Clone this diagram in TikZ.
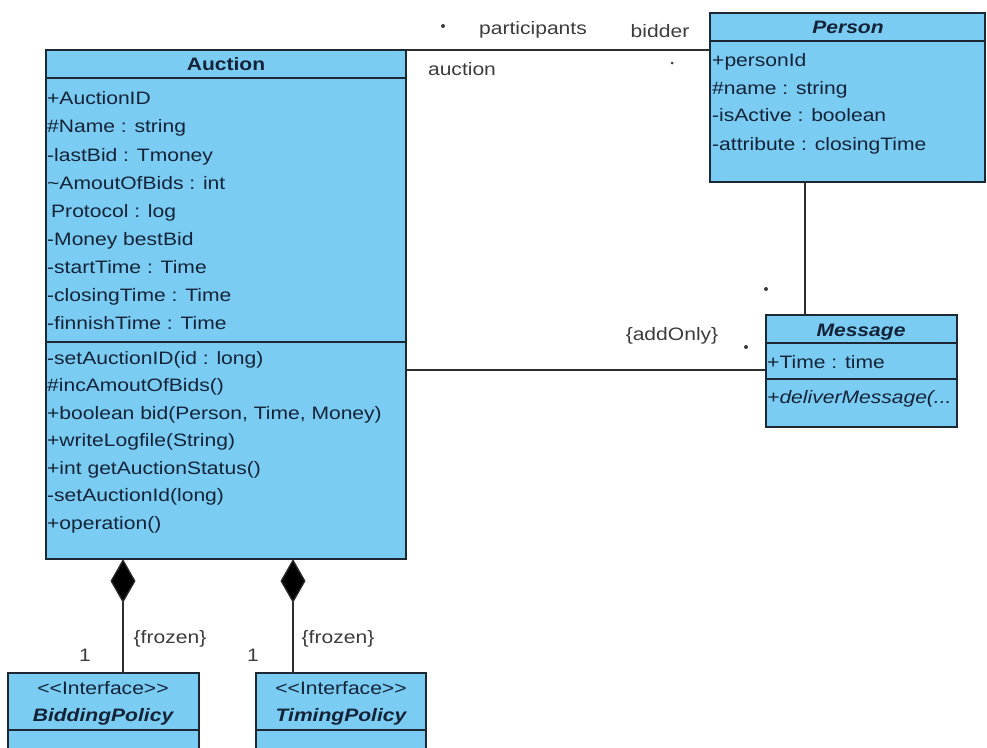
\documentclass[tikz,border=0pt]{standalone}
\usepackage{fontspec}
\setmainfont{Liberation Sans}[FakeStretch=1.17]
\usetikzlibrary{arrows.meta,calc}
\definecolor{umlfill}{RGB}{122,204,242}
\definecolor{umlline}{RGB}{28,40,52}
\definecolor{umltext}{RGB}{20,35,55}
\definecolor{lbltext}{RGB}{60,60,60}
\definecolor{connc}{RGB}{45,45,45}
\begin{document}
\begin{tikzpicture}[x=1pt,y=-1pt,
  box/.style={draw=umlline, fill=umlfill, line width=1.8pt, inner sep=0pt, outer sep=0pt, anchor=north west},
  divider/.style={draw=umlline, line width=1.4pt},
  txt/.style={inner sep=0pt, text height=13pt, text depth=3pt, yshift=-1pt, font=\fontsize{18}{21}\selectfont},
  member/.style={txt, anchor=west, text=umltext},
  ctitle/.style={txt, text=umltext, font=\fontsize{18}{21}\selectfont\bfseries},
  atitle/.style={txt, text=umltext, font=\fontsize{18}{21}\selectfont\bfseries\itshape},
  lbl/.style={txt, text=lbltext},
  conn/.style={draw=connc, line width=1.3pt},
  mult/.style={circle, fill=lbltext, inner sep=0pt, minimum size=4pt},
]
\clip (0,0) rectangle (987,747);
\fill[white] (0,0) rectangle (987,747);

% ---------- class boxes ----------
\node[box, minimum width=360pt, minimum height=509pt] (auction) at (46,50) {};
\node[box, minimum width=275pt, minimum height=169pt] (person) at (710,13) {};
\node[box, minimum width=191pt, minimum height=112pt] (message) at (766,315) {};
\node[box, minimum width=191pt, minimum height=110pt] (bidding) at (8,673) {};
\node[box, minimum width=170pt, minimum height=110pt] (timing) at (256,673) {};

% ---------- dividers ----------
\draw[divider] (auction.west |- 0,78) -- (auction.east |- 0,78);
\draw[divider] (auction.west |- 0,342) -- (auction.east |- 0,342);
\draw[divider] (person.west |- 0,41) -- (person.east |- 0,41);
\draw[divider] (message.west |- 0,343) -- (message.east |- 0,343);
\draw[divider] (message.west |- 0,379) -- (message.east |- 0,379);
\draw[divider] (bidding.west |- 0,730) -- (bidding.east |- 0,730);
\draw[divider] (timing.west |- 0,730) -- (timing.east |- 0,730);

% ---------- Auction ----------
\node[ctitle] (auctionname) at (226,64) {Auction};
\node[member] (a1) at (47,98) {+AuctionID};
\node[member] (a2) at (47,126) {\#Name : string};
\node[member] (a3) at (47,155) {-lastBid : Tmoney};
\node[member] (a4) at (47,183) {\textasciitilde AmoutOfBids : int};
\node[member] (a5) at (51,211) {Protocol : log};
\node[member] (a6) at (47,239) {-Money bestBid};
\node[member] (a7) at (47,267) {-startTime : Time};
\node[member] (a8) at (47,295) {-closingTime : Time};
\node[member] (a9) at (47,323) {-finnishTime : Time};
\node[member] (m1) at (47,358) {-setAuctionID(id : long)};
\node[member] (m2) at (47,385) {\#incAmoutOfBids()};
\node[member] (m3) at (47,413) {+boolean bid(Person, Time, Money)};
\node[member] (m4) at (47,440) {+writeLogfile(String)};
\node[member] (m5) at (47,468) {+int getAuctionStatus()};
\node[member] (m6) at (47,495) {-setAuctionId(long)};
\node[member] (m7) at (47,523) {+operation()};

% ---------- Person ----------
\node[atitle] (personname) at (848,27) {Person};
\node[member] (p1) at (712,60) {+personId};
\node[member] (p2) at (712,88) {\#name : string};
\node[member] (p3) at (712,115) {-isActive : boolean};
\node[member] (p4) at (712,144) {-attribute : closingTime};

% ---------- Message ----------
\node[atitle] (messagename) at (861,330) {Message};
\node[member] (g1) at (767,362) {+Time : time};
\node[member, font=\fontsize{18}{21}\selectfont\itshape] (g2) at (767,397) {+deliverMessage(...};

% ---------- Interfaces ----------
\node[txt, text=umltext] (bst) at (103,688) {<\kern0pt<Interface>\kern0pt>};
\node[atitle] (bname) at (103,715) {BiddingPolicy};
\node[txt, text=umltext] (tst) at (341,688) {<\kern0pt<Interface>\kern0pt>};
\node[atitle] (tname) at (341,715) {TimingPolicy};

% ---------- connectors ----------
\draw[conn] (auction.north east) -- (auction.north east -| person.west);
\coordinate (pm) at ($(person.south west)+(95,0)$);
\draw[conn] (pm) -- (pm |- message.north);
\coordinate (am) at ($(auction.north east)+(0,320)$);
\draw[conn] (am) -- (am -| message.west);
\coordinate (c1) at ($(auction.south west)+(77,0)$);
\coordinate (c2) at ($(auction.south west)+(247,0)$);
\draw[conn, -{Diamond[length=44pt,width=25pt,fill=black]}] (c1 |- bidding.north) -- (c1);
\draw[conn, -{Diamond[length=44pt,width=25pt,fill=black]}] (c2 |- timing.north) -- (c2);

% ---------- association labels ----------
\node[mult] (d1) at (443,26) {};
\node[lbl] (participants) at (533,28) {participants};
\node[lbl] (bidder) at (660,31) {bidder};
\node[lbl] (auctionrole) at (462,69) {auction};
\node[mult, minimum size=3pt] (d2) at (672,63) {};
\node[mult] (d3) at (766,289) {};
\node[lbl] (addonly) at (672,334) {\{addOnly\}};
\node[mult] (d4) at (746,347) {};
\node[lbl] (frozen1) at (170,637) {\{frozen\}};
\node[lbl] (frozen2) at (338,637) {\{frozen\}};
\node[lbl] (one1) at (85,655) {1};
\node[lbl] (one2) at (253,655) {1};
\end{tikzpicture}
\end{document}
